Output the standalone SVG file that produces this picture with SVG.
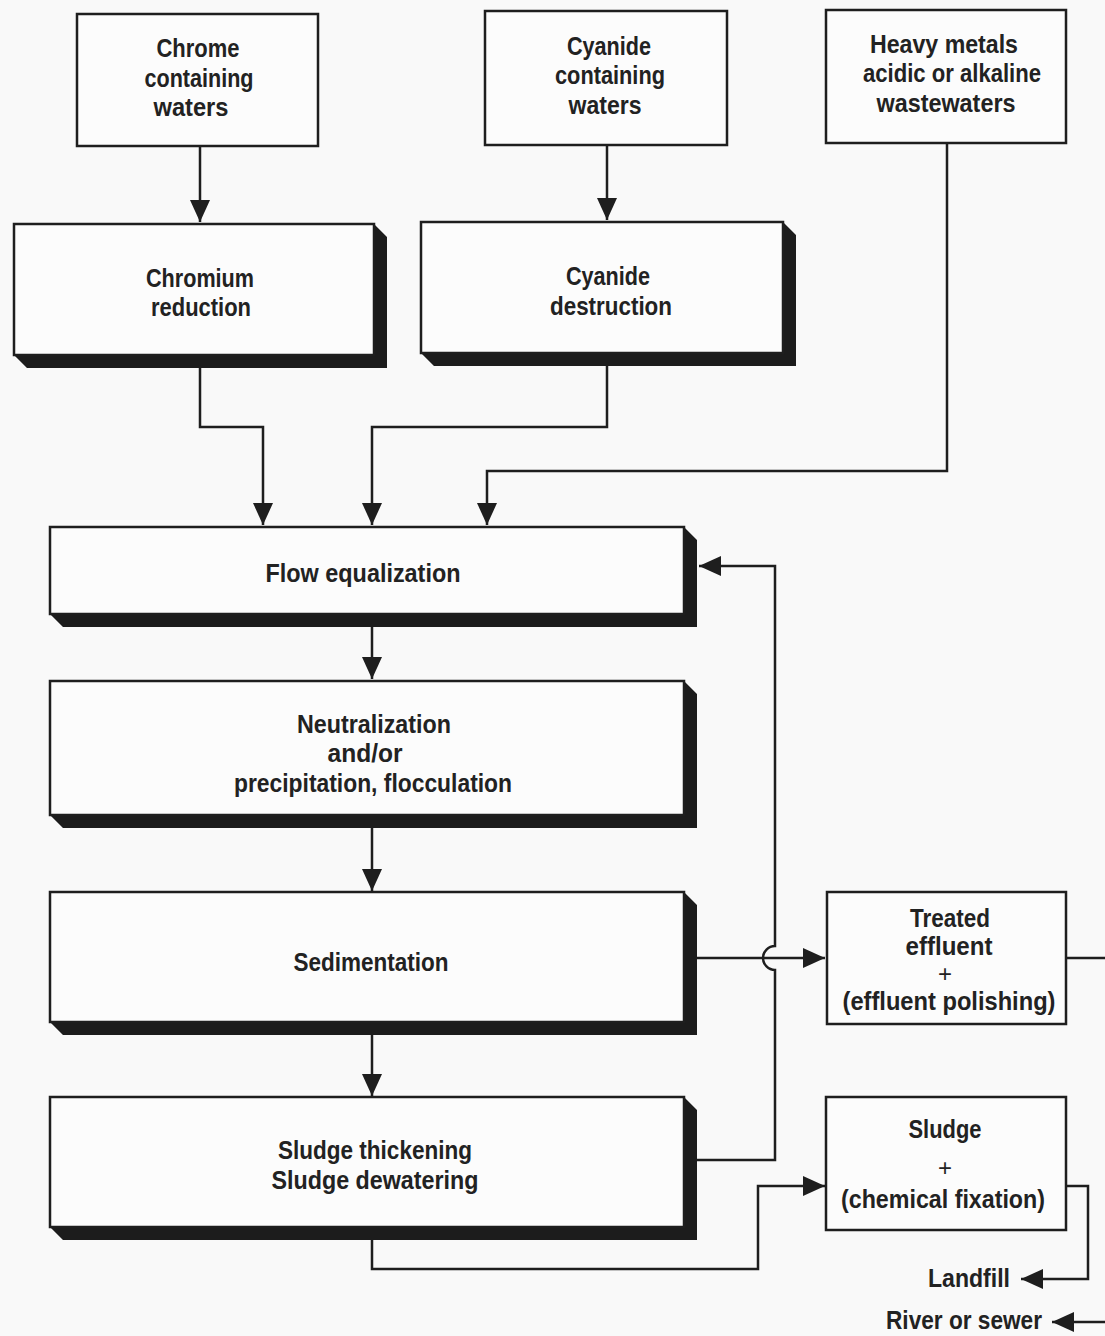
<svg xmlns="http://www.w3.org/2000/svg" width="1105" height="1336" viewBox="0 0 1105 1336">
<style>
.bg{fill:#f9f9f9}
.box{fill:#fcfcfc;stroke:#1e1e1e;stroke-width:2.5}
.shadow{fill:#1c1c1c}
.t{font-family:"Liberation Sans",Arial,sans-serif;font-size:26px;font-weight:bold;fill:#222;text-anchor:middle}
.p{font-size:24px;font-weight:normal}
.c{fill:none;stroke:#1e1e1e;stroke-width:2.5}
</style>
<defs>
<marker id="ah" markerUnits="userSpaceOnUse" markerWidth="22" markerHeight="20" refX="22" refY="10" orient="auto">
<path d="M0,0 L22,10 L0,20 z" fill="#1e1e1e"/>
</marker>
</defs>
<rect class="bg" x="0" y="0" width="1105" height="1336"/>

<g id="connectors">
<path class="c" d="M200,146 V222" marker-end="url(#ah)"/>
<path class="c" d="M607,145 V220" marker-end="url(#ah)"/>
<path class="c" d="M200,368 V427 H263 V525" marker-end="url(#ah)"/>
<path class="c" d="M607,366 V427 H372 V525" marker-end="url(#ah)"/>
<path class="c" d="M947,143 V471 H487 V525" marker-end="url(#ah)"/>
<path class="c" d="M372,627 V679" marker-end="url(#ah)"/>
<path class="c" d="M372,828 V891" marker-end="url(#ah)"/>
<path class="c" d="M372,1035 V1096" marker-end="url(#ah)"/>
<path class="c" d="M697,958 H825" marker-end="url(#ah)"/>
<path class="c" d="M697,1160 H775 V970 A12,12 0 0 1 775,946 V566 H699" marker-end="url(#ah)"/>
<path class="c" d="M372,1240 V1269 H758 V1186 H825" marker-end="url(#ah)"/>
<path class="c" d="M1066,1186 H1088 V1279 H1021" marker-end="url(#ah)"/>
<path class="c" d="M1066,958 H1105"/>
<path class="c" d="M1105,1322 H1052" marker-end="url(#ah)"/>
</g>

<g id="chrome-waters">
<rect class="box" x="77" y="14" width="241" height="132"/>
<text class="t" x="198" y="57" textLength="83" lengthAdjust="spacingAndGlyphs">Chrome</text>
<text class="t" x="199" y="87" textLength="109" lengthAdjust="spacingAndGlyphs">containing</text>
<text class="t" x="191" y="116" textLength="75" lengthAdjust="spacingAndGlyphs">waters</text>
</g>

<g id="cyanide-waters">
<rect class="box" x="485" y="11" width="242" height="134"/>
<text class="t" x="609" y="55" textLength="84" lengthAdjust="spacingAndGlyphs">Cyanide</text>
<text class="t" x="610" y="84" textLength="110" lengthAdjust="spacingAndGlyphs">containing</text>
<text class="t" x="605" y="114" textLength="73" lengthAdjust="spacingAndGlyphs">waters</text>
</g>

<g id="heavy-metals">
<rect class="box" x="826" y="10" width="240" height="133"/>
<text class="t" x="944" y="53" textLength="148" lengthAdjust="spacingAndGlyphs">Heavy metals</text>
<text class="t" x="952" y="82" textLength="178" lengthAdjust="spacingAndGlyphs">acidic or alkaline</text>
<text class="t" x="946" y="112" textLength="139" lengthAdjust="spacingAndGlyphs">wastewaters</text>
</g>

<g id="chromium-reduction">
<polygon class="shadow" points="374,224 387,237 387,368 27,368 14,355 374,355"/>
<rect class="box" x="14" y="224" width="360" height="131"/>
<text class="t" x="200" y="287" textLength="108" lengthAdjust="spacingAndGlyphs">Chromium</text>
<text class="t" x="201" y="316" textLength="100" lengthAdjust="spacingAndGlyphs">reduction</text>
</g>

<g id="cyanide-destruction">
<polygon class="shadow" points="783,222 796,235 796,366 434,366 421,353 783,353"/>
<rect class="box" x="421" y="222" width="362" height="131"/>
<text class="t" x="608" y="285" textLength="84" lengthAdjust="spacingAndGlyphs">Cyanide</text>
<text class="t" x="611" y="315" textLength="122" lengthAdjust="spacingAndGlyphs">destruction</text>
</g>

<g id="flow-equalization">
<polygon class="shadow" points="684,527 697,540 697,627 63,627 50,614 684,614"/>
<rect class="box" x="50" y="527" width="634" height="87"/>
<text class="t" x="363" y="582" textLength="195" lengthAdjust="spacingAndGlyphs">Flow equalization</text>
</g>

<g id="neutralization">
<polygon class="shadow" points="684,681 697,694 697,828 63,828 50,815 684,815"/>
<rect class="box" x="50" y="681" width="634" height="134"/>
<text class="t" x="374" y="733" textLength="154" lengthAdjust="spacingAndGlyphs">Neutralization</text>
<text class="t" x="365" y="762" textLength="75" lengthAdjust="spacingAndGlyphs">and/or</text>
<text class="t" x="373" y="792" textLength="278" lengthAdjust="spacingAndGlyphs">precipitation, flocculation</text>
</g>

<g id="sedimentation">
<polygon class="shadow" points="684,892 697,905 697,1035 63,1035 50,1022 684,1022"/>
<rect class="box" x="50" y="892" width="634" height="130"/>
<text class="t" x="371" y="971" textLength="155" lengthAdjust="spacingAndGlyphs">Sedimentation</text>
</g>

<g id="sludge-thickening">
<polygon class="shadow" points="684,1097 697,1110 697,1240 63,1240 50,1227 684,1227"/>
<rect class="box" x="50" y="1097" width="634" height="130"/>
<text class="t" x="375" y="1159" textLength="194" lengthAdjust="spacingAndGlyphs">Sludge thickening</text>
<text class="t" x="375" y="1189" textLength="207" lengthAdjust="spacingAndGlyphs">Sludge dewatering</text>
</g>

<g id="treated-effluent">
<rect class="box" x="827" y="892" width="239" height="132"/>
<text class="t" x="950" y="927" textLength="80" lengthAdjust="spacingAndGlyphs">Treated</text>
<text class="t" x="949" y="955" textLength="87" lengthAdjust="spacingAndGlyphs">effluent</text>
<text class="t p" x="945" y="982">+</text>
<text class="t" x="949" y="1010" textLength="213" lengthAdjust="spacingAndGlyphs">(effluent polishing)</text>
</g>

<g id="sludge">
<rect class="box" x="826" y="1097" width="240" height="133"/>
<text class="t" x="945" y="1138" textLength="73" lengthAdjust="spacingAndGlyphs">Sludge</text>
<text class="t p" x="945" y="1176">+</text>
<text class="t" x="943" y="1208" textLength="204" lengthAdjust="spacingAndGlyphs">(chemical fixation)</text>
</g>

<g id="landfill">
<text class="t" x="969" y="1287" textLength="82" lengthAdjust="spacingAndGlyphs">Landfill</text>
</g>

<g id="river-or-sewer">
<text class="t" x="964" y="1329" textLength="156" lengthAdjust="spacingAndGlyphs">River or sewer</text>
</g>
</svg>
